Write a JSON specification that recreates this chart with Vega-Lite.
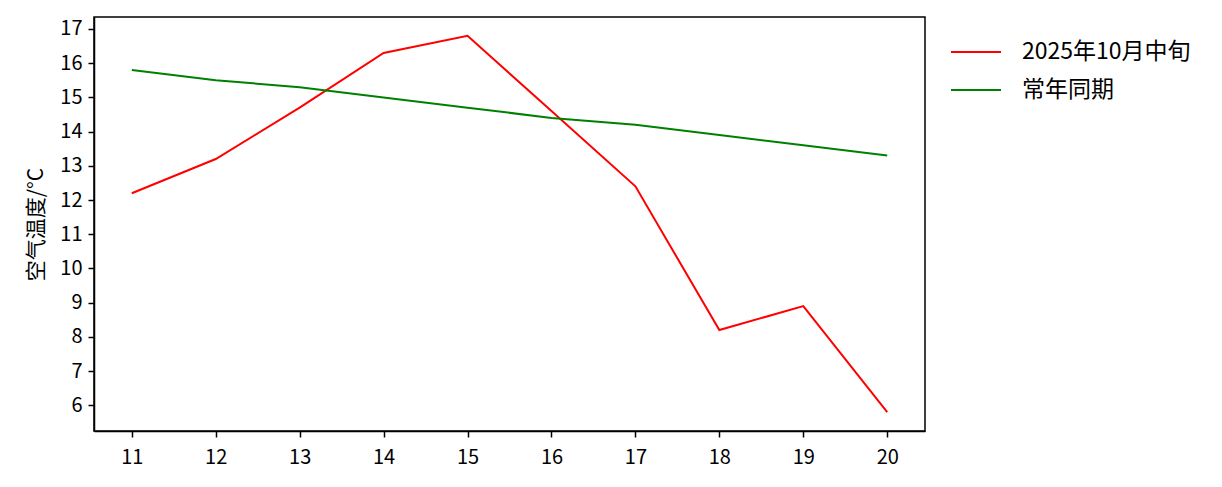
{
  "$schema": "https://vega.github.io/schema/vega-lite/v6.json",
  "width": 831,
  "height": 414,
  "autosize": "none",
  "padding": {"left": 94, "top": 17, "right": 297, "bottom": 56},
  "background": "white",
  "config": {
    "font": "Noto Sans CJK SC",
    "view": {"stroke": "black", "strokeWidth": 1.5},
    "axis": {
      "grid": false,
      "domainColor": "black",
      "domainWidth": 1.5,
      "tickColor": "black",
      "tickWidth": 1.5,
      "tickSize": 6,
      "labelColor": "black",
      "labelFontSize": 20,
      "labelFont": "Noto Sans CJK SC",
      "titleFont": "Noto Sans CJK SC",
      "titleFontSize": 21,
      "titleFontWeight": "normal",
      "titleColor": "black"
    }
  },
  "data": {
    "values": [
      {"day": 11, "series": "2025年10月中旬", "temp": 12.2},
      {"day": 12, "series": "2025年10月中旬", "temp": 13.2},
      {"day": 13, "series": "2025年10月中旬", "temp": 14.7},
      {"day": 14, "series": "2025年10月中旬", "temp": 16.3},
      {"day": 15, "series": "2025年10月中旬", "temp": 16.8},
      {"day": 16, "series": "2025年10月中旬", "temp": 14.6},
      {"day": 17, "series": "2025年10月中旬", "temp": 12.4},
      {"day": 18, "series": "2025年10月中旬", "temp": 8.2},
      {"day": 19, "series": "2025年10月中旬", "temp": 8.9},
      {"day": 20, "series": "2025年10月中旬", "temp": 5.8},
      {"day": 11, "series": "常年同期", "temp": 15.8},
      {"day": 12, "series": "常年同期", "temp": 15.5},
      {"day": 13, "series": "常年同期", "temp": 15.3},
      {"day": 14, "series": "常年同期", "temp": 15.0},
      {"day": 15, "series": "常年同期", "temp": 14.7},
      {"day": 16, "series": "常年同期", "temp": 14.4},
      {"day": 17, "series": "常年同期", "temp": 14.2},
      {"day": 18, "series": "常年同期", "temp": 13.9},
      {"day": 19, "series": "常年同期", "temp": 13.6},
      {"day": 20, "series": "常年同期", "temp": 13.3}
    ]
  },
  "mark": {"type": "line", "strokeWidth": 2},
  "encoding": {
    "x": {
      "field": "day",
      "type": "quantitative",
      "scale": {"domain": [10.55, 20.45], "nice": false, "zero": false},
      "axis": {"values": [11, 12, 13, 14, 15, 16, 17, 18, 19, 20], "title": null, "labelPadding": 10}
    },
    "y": {
      "field": "temp",
      "type": "quantitative",
      "scale": {"domain": [5.25, 17.35], "nice": false, "zero": false},
      "axis": {"values": [6, 7, 8, 9, 10, 11, 12, 13, 14, 15, 16, 17], "title": "空气温度/°C", "labelPadding": 6, "titlePadding": 13}
    },
    "color": {
      "field": "series",
      "type": "nominal",
      "scale": {"domain": ["2025年10月中旬", "常年同期"], "range": ["#ff0000", "#008000"]},
      "legend": {
        "title": null,
        "orient": "none",
        "legendX": 856,
        "legendY": 9,
        "symbolType": "stroke",
        "symbolSize": 2500,
        "symbolStrokeWidth": 2,
        "labelFontSize": 23,
        "labelLimit": 300,
        "labelColor": "black",
        "labelFont": "Noto Sans CJK SC",
        "labelOffset": 20,
        "rowPadding": -13
      }
    }
  }
}
